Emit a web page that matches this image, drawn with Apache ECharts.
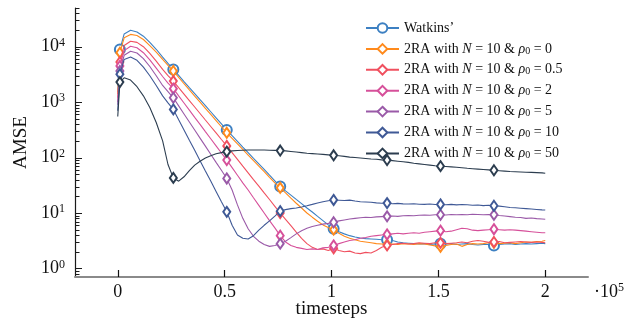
<!DOCTYPE html>
<html><head><meta charset="utf-8">
<script src="https://cdn.jsdelivr.net/npm/echarts@6/dist/echarts.min.js"></script>
<style>html,body{margin:0;padding:0;background:#fff}#c{width:627px;height:322px}</style>
</head><body><div id="c"></div>
<script>
// ---- data (timesteps on x, AMSE on y) ----
const X = [0, 1000, 3000, 6000, 9000, 12000, 15000, 18000,
  21000, 23500, 26000, 28500, 31000, 33500, 36000, 38500, 41000, 43500,
  46000, 48500, 51000, 53500, 56000, 58500, 61000, 63500, 66000, 68500,
  71000, 73500, 76000, 78500, 81000, 83500, 86000, 88500, 91000, 93500,
  96000, 98500, 101000, 103500, 106000, 108500, 111000, 113500, 116000, 118500,
  121000, 123500, 126000, 128500, 131000, 133500, 136000, 138500, 141000, 143500,
  146000, 148500, 151000, 153500, 156000, 158500, 161000, 163500, 166000, 168500,
  171000, 173500, 176000, 178500, 181000, 183500, 186000, 188500, 191000, 193500,
  196000, 198500, 200000];

const watkins = [1500, 8900, 17000, 19800, 18500, 15500, 12000, 9000,
  6500, 5000, 3900, 3030, 2350, 1830, 1430, 1110, 863, 671,
  522, 406, 314, 248, 196, 155, 123, 97, 77, 61,
  48, 38, 30, 25, 21, 17.6, 14.8, 12.3, 10.4, 8.7,
  7.3, 6.1, 5.2, 4.6, 4.2, 3.9, 3.7, 3.55, 3.45, 3.4,
  3.35, 3.3, 3.3, 3.2, 3.0, 2.9, 2.85, 2.8, 2.75, 2.8,
  2.7, 2.75, 2.8, 2.75, 2.8, 2.7, 2.75, 2.8, 2.7, 2.65,
  2.7, 2.7, 2.6, 2.7, 2.75, 2.8, 2.7, 2.75, 2.8, 2.75,
  2.8, 2.85, 2.8];

const rho0 = [1400, 7800, 14500, 16700, 16000, 13500, 10500, 8000,
  5900, 4600, 3650, 2800, 2150, 1660, 1290, 1000, 775, 600,
  465, 360, 280, 222, 176, 140, 111, 88, 70, 56,
  44, 35, 28.5, 23, 18.5, 15, 12.3, 10, 8.4, 7.1,
  6.1, 5.5, 5.0, 4.3, 3.8, 3.5, 3.3, 3.1, 3.0, 2.9,
  2.8, 2.75, 2.7, 2.75, 2.7, 2.8, 2.75, 2.7, 2.8, 2.75,
  2.65, 2.55, 2.45, 2.6, 2.7, 2.75, 2.5, 2.7, 2.8, 2.75,
  2.8, 2.9, 2.9, 2.8, 2.85, 2.9, 2.8, 2.9, 3.0, 2.95,
  3.05, 3.1, 3.2];

const rho05 = [1200, 5300, 10500, 12600, 12000, 10000, 7600, 5500,
  3900, 3000, 2400, 1830, 1400, 1070, 817, 624, 476, 364,
  278, 212, 162, 123, 93, 70, 53, 40, 30.5, 23,
  17.5, 13.2, 10.0, 7.7, 5.9, 4.5, 3.5, 2.8, 2.4, 2.2,
  2.25, 2.1, 2.3, 2.1, 2.0, 2.05, 1.9, 1.85, 1.95, 1.9,
  2.1, 2.4, 2.6, 2.7, 2.8, 2.85, 2.75, 2.8, 2.9, 2.85,
  2.8, 2.9, 2.9, 2.8, 2.85, 2.9, 3.0, 2.9, 3.1, 3.2,
  3.1, 2.95, 3.0, 3.05, 2.9, 2.95, 3.0, 3.05, 3.0, 2.95,
  3.0, 2.95, 2.9];

const rho2 = [1000, 4500, 8500, 10200, 9600, 7800, 5800, 4100,
  2900, 2200, 1750, 1300, 966, 718, 533, 396, 294, 219,
  163, 121, 90, 66, 48, 35, 26, 18.8, 13.7, 10,
  7.3, 5.4, 3.9, 3.0, 2.6, 2.4, 2.3, 2.2, 2.25, 2.2,
  2.35, 2.4, 2.6, 2.8, 3.0, 3.2, 3.3, 3.5, 3.6, 3.8,
  3.9, 4.0, 4.1, 4.2, 4.3, 4.2, 4.3, 4.4, 4.3, 4.5,
  4.6, 4.7, 4.8, 4.6, 4.7, 5.0, 5.3, 5.2, 4.9, 4.8,
  4.9, 5.0, 5.1, 5.0, 4.9, 5.0, 4.9, 4.8, 4.7, 4.6,
  4.5, 4.4, 4.4];

const rho5 = [900, 3650, 7000, 8300, 7700, 6100, 4400, 3000,
  2000, 1550, 1200, 858, 613, 439, 314, 224, 161, 115,
  82, 59, 42, 26, 14, 8, 5.2, 3.8, 3.1, 2.7,
  2.5, 2.6, 2.8, 3.1, 3.6, 4.2, 4.8, 5.3, 5.7, 6.0,
  6.3, 6.5, 6.8, 7.2, 7.5, 7.8, 8.0, 8.2, 8.4, 8.3,
  8.5, 8.6, 8.7, 8.8, 8.7, 8.9, 9.0, 8.9, 9.1, 9.2,
  9.1, 9.3, 9.3, 9.2, 9.4, 9.3, 9.4, 9.3, 9.5, 9.4,
  9.3, 9.4, 9.3, 9.0, 8.8, 8.6, 8.4, 8.3, 8.0, 8.1,
  7.9, 7.8, 7.7];

const rho10 = [700, 3200, 5900, 6500, 5700, 4300, 3000, 2000,
  1300, 970, 740, 483, 316, 206, 135, 88, 57.5, 37.6,
  24.5, 16, 10.5, 6.0, 4.0, 3.5, 3.4, 3.9, 4.9, 6.0,
  7.2, 8.8, 10.8, 11.5, 12.0, 12.3, 12.8, 13.5, 14.3, 15.2,
  16.0, 16.6, 17.2, 17.0, 16.8, 17.1, 16.5, 16.0, 15.8, 15.6,
  15.2, 15.0, 15.1, 14.7, 14.9, 14.6, 14.5, 14.7, 14.4, 14.3,
  14.5, 14.2, 14.3, 14.1, 14.3, 14.0, 14.2, 14.1, 13.8, 13.9,
  13.6, 13.8, 13.5, 13.3, 13.0, 12.6, 12.4, 12.2, 12.0, 11.8,
  11.6, 11.4, 11.3];

const rho50 = [550, 2300, 2750, 2500, 1900, 1300, 800, 430,
  200, 75, 43, 37.5, 45, 58, 73, 86, 98, 108,
  117, 123, 128, 132, 134, 136, 137, 137, 137, 137,
  136, 135, 134, 132, 129, 126, 123, 120, 118, 116,
  114, 112, 110, 108, 105, 102, 100, 98, 96, 94,
  93, 91, 90, 88, 86, 84, 82, 79, 77, 75,
  73, 71, 70, 69, 68, 67, 65.5, 64, 63, 62,
  61, 60, 59, 58, 57, 56, 55.5, 55, 54.5, 54,
  53.5, 53, 52];

const seriesNames = ['Watkins\u2019',
  '2RA with N=10 & \u03c10=0', '2RA with N=10 & \u03c10=0.5', '2RA with N=10 & \u03c10=2',
  '2RA with N=10 & \u03c10=5', '2RA with N=10 & \u03c10=10', '2RA with N=10 & \u03c10=50'];
const seriesValues = [watkins, rho0, rho05, rho2, rho5, rho10, rho50];
const markerIndices = [1, 10, 20, 30, 40, 50, 60, 70];

const xTickValues = [0, 50000, 100000, 150000, 200000];
const xTickLabels = ['0', '0.5', '1', '1.5', '2'];
const yDecades = [-1, 0, 1, 2, 3, 4];

// ---- style ----
const colors = ['#3d80c2', '#ff8a1c', '#f0505f', '#d6509a', '#9a5aa8', '#3f5996', '#2c3d4f'];
const FONT = 'Liberation Serif';
const X_MIN = -20000, X_MAX = 220000, Y_MIN = 0.7, Y_MAX = 50000;
const markerSet = new Set(markerIndices);

const series = seriesNames.map((name, s) => {
  const isCircle = s === 0;
  const size = isCircle ? 10 : [7, 10];
  return {
    type: 'line', name,
    data: X.map((x, i) => [x, seriesValues[s][i]]),
    symbol: isCircle ? 'emptyCircle' : 'emptyDiamond',
    symbolSize: (v, p) => markerSet.has(p.dataIndex) ? size : 0,
    showSymbol: true, showAllSymbol: true,
    lineStyle: { color: colors[s], width: 1.1 },
    itemStyle: { color: colors[s], borderWidth: 1 },
    emphasis: { disabled: true }, silent: true,
    z: 2 + s
  };
});

// y-axis log ticks (major at decades, minor at 2..9)
const yTickData = [];
yDecades.forEach(e => {
  for (let m = 1; m <= 9; m++) {
    const v = m * Math.pow(10, e);
    if (v > 0.75 && v <= Y_MAX * 1.0001) yTickData.push([X_MIN, v, m === 1 ? 7 : 4.5]);
  }
});
series.push({
  type: 'custom', silent: true, z: 20, clip: false,
  data: yTickData,
  renderItem: (params, api) => {
    const p = api.coord([api.value(0), api.value(1)]);
    const y = Math.round(p[1]) + 0.5;
    return { type: 'line', shape: { x1: p[0], y1: y, x2: p[0] + api.value(2), y2: y },
      style: { stroke: '#1a1a1a', lineWidth: 1 } };
  }
});

function legendFmt(name) {
  if (name.indexOf('2RA') !== 0) return '{t|' + name + '}';
  const v = name.split('=').pop();
  return '{t|2RA with }{i|N}{t| = 10 & }{i|\u03c1}{s|0}{t| = ' + v + '}';
}

const option = {
  animation: false,
  backgroundColor: '#fff',
  grid: { left: 75, top: 8, width: 513, height: 269, containLabel: false, outerBoundsMode: 'none' },
  xAxis: {
    type: 'value', min: X_MIN, max: X_MAX,
    name: 'timesteps', nameLocation: 'middle', nameGap: 23, nameMoveOverlap: false,
    nameTextStyle: { fontFamily: FONT, fontSize: 19, color: '#111' },
    axisLine: { show: true, onZero: false, lineStyle: { color: '#8a8a8a', width: 2 } },
    axisTick: { show: true, inside: true, length: 7, customValues: xTickValues,
      lineStyle: { color: '#111', width: 1.2 } },
    axisLabel: { show: true, customValues: xTickValues, margin: 6,
      fontFamily: FONT, fontSize: 18, color: '#111',
      formatter: v => xTickLabels[xTickValues.indexOf(v)] },
    splitLine: { show: false }
  },
  yAxis: {
    type: 'log', logBase: 10, min: Y_MIN, max: Y_MAX,
    name: 'AMSE', nameLocation: 'middle', nameGap: 44, nameRotate: 90, nameMoveOverlap: false,
    nameTextStyle: { fontFamily: FONT, fontSize: 19, color: '#111' },
    axisLine: { show: true, onZero: false, lineStyle: { color: '#1a1a1a', width: 1.2 } },
    axisTick: { show: false },
    splitLine: { show: false },
    axisLabel: {
      margin: 10, color: '#111',
      formatter: v => {
        const e = Math.log10(v);
        if (Math.abs(e - Math.round(e)) > 1e-6) return '';
        return '{b|10}{s|' + Math.round(e) + '}';
      },
      rich: {
        b: { fontFamily: FONT, fontSize: 18, color: '#111', lineHeight: 20 },
        s: { fontFamily: FONT, fontSize: 12, color: '#111', lineHeight: 9, verticalAlign: 'top' }
      }
    }
  },
  legend: {
    data: seriesNames, orient: 'vertical', left: 360, top: 16,
    itemWidth: 33, itemHeight: 12, itemGap: 6.9,
    formatter: legendFmt,
    textStyle: {
      fontFamily: FONT, fontSize: 14, color: '#111', lineHeight: 14,
      rich: {
        t: { fontFamily: FONT, fontSize: 14, color: '#111', lineHeight: 14 },
        i: { fontFamily: FONT, fontSize: 14, fontStyle: 'italic', color: '#111', lineHeight: 14 },
        s: { fontFamily: FONT, fontSize: 10, color: '#111', lineHeight: 8, verticalAlign: 'bottom' }
      }
    },
    selectedMode: false
  },
  graphic: [{
    type: 'text', left: 594, top: 282,
    style: {
      text: '{b|\u00b710}{s|5}',
      rich: {
        b: { fontFamily: FONT, fontSize: 18, fill: '#111', lineHeight: 20 },
        s: { fontFamily: FONT, fontSize: 12, fill: '#111', lineHeight: 9, verticalAlign: 'top' }
      }
    }
  }],
  series
};
const chart = echarts.init(document.getElementById('c'));
chart.setOption(option);
</script></body></html>
